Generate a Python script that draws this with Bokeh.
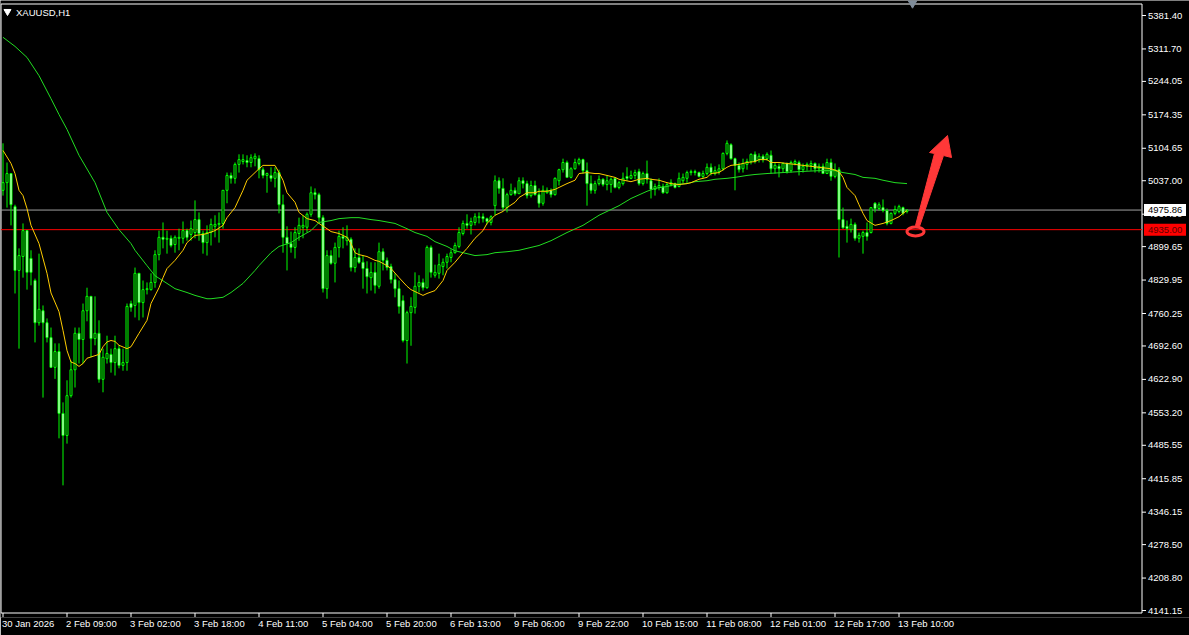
from bokeh.plotting import figure
from bokeh.models import Range1d, FixedTicker
from bokeh.embed import file_html
from bokeh.resources import INLINE
from bokeh.core.properties import value

# ---------------- data (XAUUSD H1) ----------------
tick_bars = [0, 16, 32, 48, 64, 80, 96, 112, 128, 144, 160, 176, 192, 208, 224]
tick_labels = ["30 Jan 2026", "2 Feb 09:00", "3 Feb 02:00", "3 Feb 18:00", "4 Feb 11:00",
               "5 Feb 04:00", "5 Feb 20:00", "6 Feb 13:00", "9 Feb 06:00", "9 Feb 22:00",
               "10 Feb 15:00", "11 Feb 08:00", "12 Feb 01:00", "12 Feb 17:00", "13 Feb 10:00"]
price_ticks = [5381.40, 5311.70, 5244.05, 5174.35, 5104.65, 5037.00, 4967.30, 4899.65,
               4829.95, 4760.25, 4692.60, 4622.90, 4553.20, 4485.55, 4415.85, 4346.15,
               4278.50, 4208.80, 4141.15]

opens = [5017,5033,5052,4983,4850,4879,4933,4875,4829,4741,
         4766,4741,4710,4648,4681,4552,4506,4589,4643,4719,
         4706,4766,4796,4708,4719,4623,4666,4675,4658,4687,
         4652,4658,4781,4777,4844,4783,4810,4810,4825,4883,
         4919,4915,4917,4904,4917,4917,4933,4925,4929,4956,
         4927,4908,4929,4942,4946,4948,5017,5048,5042,5071,
         5077,5079,5075,5083,5083,5060,5048,5048,5042,5054,
         4987,4919,4906,4898,4927,4940,4940,4967,5012,5008,
         4960,4812,4881,4865,4898,4921,4912,4915,4856,4877,
         4867,4854,4835,4846,4817,4889,4871,4858,4831,4812,
         4787,4704,4762,4773,4817,4825,4814,4898,4840,4844,
         4858,4867,4877,4887,4900,4927,4948,4944,4950,4960,
         4962,4958,4950,4985,5037,5021,4981,5008,5017,5010,
         5037,5031,5006,5027,5008,4990,5012,5017,5008,5037,
         5060,5075,5044,5062,5073,5081,5058,5031,5017,5031,
         5040,5029,5029,5042,5023,5031,5046,5042,5048,5056,
         5031,5052,5037,5019,5023,5025,5012,5029,5031,5025,
         5037,5042,5054,5056,5054,5046,5052,5065,5052,5056,
         5062,5094,5112,5083,5069,5062,5071,5077,5092,5081,
         5088,5083,5090,5062,5067,5062,5073,5058,5073,5075,
         5060,5067,5069,5073,5062,5067,5052,5075,5046,5060,
         4956,4942,4935,4946,4917,4921,4929,4929,4990,4979,
         4981,4975,4948,4969,4973,4981,4973]
highs = [5115,5075,5052,4987,4896,4948,4933,4892,4833,4885,
         4777,4750,4731,4698,4698,4575,4621,4662,4731,4731,
         4781,4814,4796,4796,4746,4687,4714,4687,4714,4694,
         4687,4781,4787,4856,4844,4829,4825,4844,4892,4933,
         4950,4933,4923,4923,4937,4952,4937,4954,4996,4971,
         4933,4944,4958,4965,4971,5017,5054,5054,5075,5092,
         5092,5090,5092,5094,5090,5065,5054,5065,5065,5060,
         5008,4942,4931,4940,4960,4965,4971,5025,5021,5012,
         4965,4892,4892,4908,4933,4940,4944,4919,4896,4896,
         4881,4869,4867,4867,4908,4896,4877,4864,4844,4829,
         4798,4766,4794,4846,4840,4833,4902,4902,4862,4885,
         4875,4885,4894,4908,4940,4954,4967,4960,4969,4971,
         4969,4960,4965,5048,5044,5042,5012,5031,5023,5044,
         5044,5037,5037,5037,5021,5027,5023,5021,5044,5062,
         5083,5079,5065,5083,5085,5083,5075,5048,5037,5048,
         5042,5048,5044,5044,5037,5054,5065,5058,5060,5062,
         5056,5079,5042,5031,5042,5031,5033,5040,5033,5054,
         5052,5058,5060,5060,5056,5058,5073,5073,5067,5071,
         5096,5121,5115,5085,5075,5083,5083,5094,5098,5094,
         5092,5096,5100,5075,5073,5075,5075,5079,5081,5079,
         5073,5075,5079,5075,5073,5073,5083,5083,5073,5065,
         4981,4954,4958,4950,4929,4933,4950,4981,4992,4992,
         4998,4979,4971,4985,4987,4983,4977]
lows = [5006,4981,4944,4802,4687,4835,4810,4819,4700,4735,
        4585,4700,4647,4624,4500,4402,4489,4585,4606,4656,
        4656,4744,4669,4694,4616,4596,4656,4637,4631,4646,
        4641,4641,4764,4752,4746,4752,4800,4808,4814,4871,
        4896,4885,4898,4887,4892,4906,4912,4912,4917,4912,
        4885,4881,4902,4919,4908,4937,4990,5031,5031,5054,
        5071,5065,5065,5067,5042,5042,5012,5035,5023,4969,
        4887,4850,4887,4875,4912,4917,4929,4962,4998,4950,
        4804,4791,4862,4825,4877,4896,4902,4848,4846,4864,
        4812,4802,4808,4802,4812,4850,4850,4823,4794,4760,
        4700,4656,4693,4760,4804,4808,4812,4835,4835,4833,
        4840,4854,4867,4885,4896,4923,4937,4925,4944,4948,
        4950,4946,4944,4965,5010,4975,4971,5006,5006,5010,
        5021,5000,5002,5006,4981,4985,5010,5002,5006,5027,
        5054,5044,5042,5060,5069,5052,4985,5010,5010,5027,
        5025,5017,5012,5021,5019,5027,5037,5040,5040,5027,
        5027,5031,5000,5006,5017,5010,5010,5025,5021,5023,
        5031,5031,5048,5048,5044,5042,5048,5048,5048,5050,
        5058,5090,5081,5017,5054,5054,5060,5071,5073,5075,
        5075,5079,5052,5052,5044,5054,5052,5054,5069,5048,
        5054,5058,5058,5054,5054,5052,5052,5037,5042,4877,
        4937,4908,4929,4912,4908,4885,4912,4927,4971,4975,
        4971,4944,4946,4965,4969,4965,4969]
closes = [5033,5052,4987,4850,4881,4933,4846,4846,4741,4769,
          4741,4710,4648,4681,4552,4506,4589,4643,4719,4706,
          4766,4796,4708,4719,4623,4669,4677,4658,4687,4652,
          4658,4775,4773,4844,4783,4810,4812,4825,4883,4919,
          4915,4917,4902,4919,4919,4933,4919,4937,4956,4927,
          4908,4929,4946,4946,4948,5017,5048,5042,5071,5081,
          5081,5075,5085,5088,5060,5048,5052,5042,5054,4987,
          4919,4906,4898,4929,4944,4944,4967,5012,5008,4960,
          4812,4881,4865,4898,4921,4917,4919,4856,4877,4867,
          4854,4837,4846,4819,4889,4871,4856,4831,4812,4775,
          4704,4762,4775,4817,4825,4814,4898,4846,4846,4862,
          4867,4879,4887,4902,4929,4948,4944,4952,4962,4962,
          4958,4952,4962,5037,5021,4981,5008,5017,5010,5037,
          5031,5006,5027,5008,4990,5017,5017,5008,5042,5060,
          5075,5044,5062,5075,5081,5058,5031,5017,5031,5040,
          5029,5037,5040,5023,5033,5042,5042,5048,5054,5031,
          5052,5040,5019,5025,5027,5012,5029,5033,5023,5042,
          5044,5054,5056,5054,5046,5052,5065,5054,5058,5062,
          5094,5115,5083,5069,5060,5073,5077,5092,5077,5088,
          5081,5092,5062,5069,5062,5073,5056,5075,5077,5060,
          5067,5071,5073,5062,5067,5052,5075,5046,5060,4956,
          4939,4937,4946,4917,4923,4929,4921,4981,4979,4987,
          4975,4948,4969,4977,4983,4969,4976]

# fast moving average (yellow)
ma_fast_bar = [0,2,3,4,5,6,7,9,11,12,14,15,16,17,18,19,20,21,24,25,26,27,28,29,31,32,34,36,37,39,
               40,41,43,45,46,48,50,51,53,55,56,58,60,61,63,64,65,68,69,70,71,73,74,76,78,79,81,82,84,86,
               87,88,89,91,93,94,96,97,99,101,102,104,105,106,108,110,111,113,115,116,118,120,121,123,125,126,128,129,131,133,
               134,136,138,139,141,143,144,146,148,149,151,153,154,157,159,161,162,164,166,167,169,171,172,174,176,177,179,181,182,184,
               186,188,189,191,192,194,196,198,200,202,204,207,209,210,211,213,214,215,216,218,220,222,224,225,226]
ma_fast_val = [5100,5073,5052,5017,5006,4979,4944,4906,4844,4803,4764,4725,4683,4659,4656,4650,4656,4667,4675,4691,
               4701,4704,4702,4694,4687,4691,4719,4746,4781,4814,4835,4854,4871,4892,4908,4923,4925,4927,4933,4944,
               4960,4981,5017,5038,5054,5062,5069,5069,5054,5038,5012,4992,4971,4958,4954,4948,4937,4931,4927,4919,
               4906,4887,4883,4879,4871,4869,4860,4854,4835,4817,4810,4802,4798,4802,4808,4829,4850,4867,4887,4896,
               4917,4933,4948,4965,4973,4981,4992,5002,5012,5012,5015,5015,5019,5023,5031,5038,5052,5054,5052,5052,
               5048,5044,5040,5035,5040,5042,5040,5038,5033,5031,5029,5031,5033,5040,5044,5052,5054,5065,5069,5071,
               5075,5077,5081,5081,5075,5075,5073,5071,5069,5067,5065,5062,5056,5044,5023,5006,4987,4969,4954,4944,
               4948,4954,4962,4969,4975]

# slow moving average (green)
ma_slow_bar = [0,3,6,9,12,14,16,19,23,26,29,32,33,36,38,41,43,46,48,51,52,55,57,60,63,64,67,69,72,74,
               77,79,82,84,87,89,92,94,98,101,103,106,108,111,113,116,118,121,123,126,129,134,137,141,145,149,154,157,161,163,
               166,168,171,173,176,178,181,183,186,188,191,195,199,204,208,210,213,215,218,220,223,226]
ma_slow_val = [5336,5317,5294,5256,5208,5175,5144,5090,5033,4971,4935,4906,4892,4860,4839,4823,4812,4804,4798,4791,
               4791,4794,4804,4823,4850,4860,4887,4900,4908,4919,4933,4950,4954,4958,4960,4960,4956,4954,4948,4937,
               4929,4921,4910,4900,4891,4885,4881,4883,4887,4889,4892,4902,4912,4929,4944,4965,4985,5000,5015,5021,
               5025,5029,5031,5035,5037,5040,5042,5044,5048,5050,5052,5054,5056,5058,5058,5054,5050,5044,5042,5038,
               5033,5031]

bid_price = 4975.86
level_price = 4935.00
bid_text = "4975.86"
level_text = "4935.00"

# ---------------- layout helpers (screen pixel -> chart coordinates) ----------------
W, H = 1189, 635
FRAME_H = 617            # chart area incl. the row of date tick marks
BAR_PX = 4.0
X0_PX = 2.5
P_TOP = 5412.67          # price at the top pixel row
P_PER_PX = 2.0844        # price per pixel


def gx(px):
    return (px - X0_PX) / BAR_PX


def gy(py):
    return P_TOP - P_PER_PX * py


FONT = "Liberation Sans"
FSIZE = "9.5px"
GREEN = "#00ff00"

p = figure(width=W, height=H,
           x_range=Range1d(gx(0), gx(W)), y_range=Range1d(gy(FRAME_H), gy(0)),
           x_axis_location="below", y_axis_location=None,
           output_backend="svg", toolbar_location=None,
           background_fill_color="black", border_fill_color="black",
           min_border_left=0, min_border_right=0, min_border_top=0,
           min_border_bottom=H - FRAME_H)
p.grid.visible = False
p.outline_line_color = None

# bottom axis: left-aligned date labels (label centre half a label width right of its tick)
CW = {" ": 0.278, ":": 0.278, "F": 0.611, "J": 0.5}
size_px = 9.5


def text_w(s):
    return sum(CW.get(ch, 0.556) for ch in s) * size_px


label_pos = [round(b + (text_w(t) / 2.0 - 1.0) / BAR_PX, 3) for b, t in zip(tick_bars, tick_labels)]
ax = p.xaxis[0]
ax.ticker = FixedTicker(ticks=label_pos)
ax.major_label_overrides = {pos: t for pos, t in zip(label_pos, tick_labels)}
ax.axis_line_color = None
ax.major_tick_line_color = None
ax.minor_tick_line_color = None
ax.major_tick_in = 0
ax.major_tick_out = 0
ax.major_label_standoff = 0
ax.major_label_text_color = "white"
ax.major_label_text_font = FONT
ax.major_label_text_font_size = FSIZE

# frame border (left, top, right, bottom)
right_x = gx(1141.5)
left_x = gx(0.5)
p.segment(x0=[left_x, left_x, right_x, left_x], y0=[gy(3.5), gy(3.5), gy(3.5), gy(612.5)],
          x1=[left_x, right_x, right_x, right_x], y1=[gy(612.5), gy(3.5), gy(612.5), gy(612.5)],
          line_color="white", line_width=1)

# date tick marks below the frame
p.segment(x0=tick_bars, y0=[gy(612.5)] * len(tick_bars), x1=tick_bars, y1=[gy(616.5)] * len(tick_bars),
          line_color="white", line_width=1)

# price scale on the right
p.segment(x0=[right_x] * len(price_ticks), y0=price_ticks,
          x1=[gx(1145.5)] * len(price_ticks), y1=price_ticks, line_color="white", line_width=1)
p.text(x=[gx(1147.5)] * len(price_ticks), y=price_ticks, text=["%.2f" % v for v in price_ticks],
       text_font=value(FONT), text_font_size=FSIZE, text_color="white",
       text_baseline="middle", text_align="left")

# horizontal lines (bid and level)
p.segment(x0=[left_x, left_x], y0=[bid_price, level_price], x1=[right_x, right_x], y1=[bid_price, level_price],
          line_color=["#a0a0a0", "#ff0000"], line_width=1)

# candles
xs = list(range(len(opens)))
tops = [max(o, c) for o, c in zip(opens, closes)]
bots = [min(o, c) for o, c in zip(opens, closes)]
fills = ["black" if c > o else "white" for o, c in zip(opens, closes)]
p.segment(x0=xs, y0=highs, x1=xs, y1=lows, line_color=GREEN, line_width=1)
p.vbar(x=xs, width=0.5, top=tops, bottom=bots, fill_color=fills, line_color=GREEN, line_width=1)

# moving averages
p.line(ma_slow_bar, ma_slow_val, line_color="#22dd22", line_width=1)
p.line(ma_fast_bar, ma_fast_val, line_color="#ffcc00", line_width=1)

# price boxes on the scale
box_x = gx(1164.5)
p.rect(x=[box_x, box_x], y=[bid_price, level_price], width=42, height=12,
       width_units="screen", height_units="screen",
       fill_color=["white", "#ff0000"], line_color=None)
p.text(x=[gx(1147.5)] * 2, y=[bid_price, level_price], text=[bid_text, level_text],
       text_font=value(FONT), text_font_size=FSIZE, text_color=["black", "#600000"],
       text_baseline="middle", text_align="left")

# symbol title and markers
p.scatter(x=[gx(7)], y=[gy(11)], marker="inverted_triangle", size=7, fill_color="white", line_color="white")
p.text(x=[gx(15.5)], y=[gy(11.5)], text=["XAUUSD,H1"], text_font=value(FONT), text_font_size=FSIZE,
       text_color="white", text_baseline="middle", text_align="left")
p.scatter(x=[gx(912)], y=[gy(2.5)], marker="inverted_triangle", size=9, fill_color="#7f8c99", line_color="#7f8c99")

# red ellipse and arrow drawn on the chart
RED = "#ff3838"
p.ellipse(x=[gx(915)], y=[gy(231)], width=17, height=9, width_units="screen", height_units="screen",
          fill_color=None, line_color=RED, line_width=3)
arrow_px = [(915, 225), (934, 153), (929, 152), (947, 135), (951, 157), (943, 155), (919, 226)]
p.patch([gx(a) for a, b in arrow_px], [gy(b) for a, b in arrow_px],
        fill_color=RED, line_color=RED, line_width=1)

open("out.html", "w").write(file_html(p, INLINE))
